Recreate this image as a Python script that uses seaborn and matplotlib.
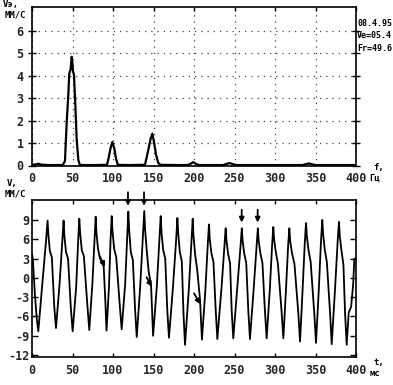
import matplotlib
matplotlib.use("Agg")
import matplotlib.pyplot as plt
import seaborn as sns
import pandas as pd

# ---------------- data ----------------
# spectrum (top): frequency, Hz  /  amplitude, mm/s
spec_f = [0, 5, 8, 11, 20, 38, 40.7, 42.8, 44.9, 46, 47.7, 49, 49.8, 50.6, 51.8, 53.5,
          55.1, 57.2, 59, 62, 80, 92.6, 94.7, 96.8, 99.2, 101.7, 103.7, 106, 120, 139.5,
          143.6, 146.5, 148.6, 150.6, 153, 155.8, 158.5, 180, 192, 196, 199, 202, 206,
          236, 240, 244, 248, 252, 300, 334, 338, 342, 346, 350, 400]
spec_a = [0.03, 0.05, 0.08, 0.04, 0.02, 0.02, 0.2, 1.9, 3.2, 4.1, 4.3, 4.85, 4.6, 4.2, 4.05, 2.7,
          1.2, 0.25, 0.03, 0.02, 0.02, 0.03, 0.35, 0.75, 1.05, 0.75, 0.3, 0.03, 0.02, 0.03,
          0.7, 1.2, 1.42, 1.05, 0.5, 0.12, 0.03, 0.02, 0.02, 0.08, 0.15, 0.08, 0.02,
          0.02, 0.07, 0.11, 0.06, 0.02, 0.02, 0.02, 0.06, 0.09, 0.05, 0.02, 0.02]

# waveform (bottom): time, ms / velocity, mm/s (vertices)
wave_t = [0.3, 1.2, 3.5, 6.0, 7.8, 12.0, 17.5, 19.2,
          20.2, 22.0, 24.5, 27.5, 29.6, 34.0, 37.5, 39.0,
          40.0, 42.0, 44.5, 48.0, 50.2, 54.5, 57.0, 58.4,
          59.4, 61.5, 64.0, 68.5, 70.7, 74.5, 77.2, 78.6,
          79.6, 81.5, 84.0, 88.5, 90.5, 92.0, 95.0, 97.0, 98.4,
          99.4, 101.5, 104.0, 108.5, 110.7, 115.0, 117.5, 118.9,
          119.9, 122.0, 124.5, 127.3, 129.3, 133.5, 137.0, 138.6,
          139.6, 141.5, 144.0, 147.0, 148.2, 149.5, 154.0, 157.4, 158.9,
          159.9, 162.0, 164.5, 167.0, 169.1, 174.0, 178.0, 179.5,
          180.5, 182.5, 185.0, 187.0, 188.9, 193.5, 197.0, 198.4,
          199.4, 201.5, 204.0, 207.5, 208.6, 209.8, 214.0, 217.0, 218.5,
          219.5, 221.5, 224.0, 226.8, 228.8, 234.0, 237.6, 239.1,
          240.1, 242.0, 244.5, 246.5, 248.5, 253.5, 257.5, 259.0,
          260.0, 262.0, 264.5, 267.0, 269.1, 273.5, 277.3, 278.8,
          279.8, 282.0, 284.5, 287.5, 289.7, 293.5, 296.4, 297.9,
          298.9, 301.0, 303.5, 308.0, 310.3, 313.5, 316.2, 317.7,
          318.7, 321.0, 324.0, 328.8, 330.9, 334.0, 336.8, 338.3,
          339.3, 341.5, 344.0, 348.5, 350.6, 354.0, 356.9, 358.4,
          359.4, 361.5, 364.0, 368.0, 370.0, 374.0, 377.5, 379.0,
          380.0, 382.0, 384.5, 386.5, 388.5, 391.0, 394.0, 396.5, 398.0]
wave_v = [3.6, 2.6, -2.5, -6.5, -8.3, -2.0, 6.0, 8.9,
          6.8, 4.2, 3.2, -4.5, -7.8, -1.0, 6.0, 8.9,
          6.5, 4.0, 3.0, -4.8, -8.3, -1.5, 5.8, 9.2,
          7.0, 4.3, 3.4, -4.5, -8.1, -1.0, 6.0, 9.5,
          7.0, 4.5, 3.0, 1.8, -3.5, -8.2, -1.5, 6.0, 9.6,
          7.2, 4.5, 3.2, -4.5, -8.0, -1.0, 6.5, 10.3,
          7.5, 4.0, 2.8, -5.0, -9.2, -1.5, 6.5, 10.4,
          7.5, 4.5, 1.0, -1.2, -5.0, -9.0, -1.5, 6.0, 9.6,
          7.0, 4.3, 3.0, -5.0, -9.3, -1.5, 6.0, 9.3,
          7.0, 4.0, 2.5, -5.5, -10.4, -2.0, 6.0, 9.2,
          6.5, 3.5, 1.2, -3.5, -6.5, -9.6, -2.0, 5.2, 8.3,
          6.0, 3.8, 2.5, -5.0, -9.5, -1.5, 5.0, 7.7,
          5.8, 3.8, 2.3, -5.0, -9.4, -1.5, 5.0, 7.7,
          5.8, 3.8, 2.3, -5.0, -9.5, -2.0, 5.0, 7.7,
          5.8, 3.8, 2.3, -5.0, -9.4, -2.0, 5.0, 7.9,
          6.0, 4.0, 2.3, -5.0, -9.4, -2.0, 5.0, 7.7,
          5.8, 3.8, 2.2, -5.5, -9.9, -2.0, 5.5, 8.5,
          6.5, 4.2, 2.5, -5.5, -10.1, -2.0, 6.0, 9.0,
          6.8, 4.3, 2.5, -5.5, -10.3, -2.0, 6.0, 8.7,
          6.5, 4.3, 2.0, -5.5, -10.4, -5.4, -4.5, -1.0, 3.0]

freq_ticks = [0, 50, 100, 150, 200, 250, 300, 350, 400]
amp_ticks = [0, 1, 2, 3, 4, 5, 6]
vel_ticks = [-12, -9, -6, -3, 0, 3, 6, 9]

# annotation arrows (tail -> head), data coords of the waveform panel
down_arrows = [((118.5, 13.3), (118.5, 11.2)), ((138.3, 13.3), (138.3, 11.2)),
               ((258.9, 10.6), (258.9, 8.6)), ((278.6, 10.6), (278.6, 8.6))]
diag_arrows = [((83.5, 3.4), (90.0, 1.7)), ((141.5, 0.1), (147.8, -1.4)),
               ((200.0, -2.4), (207.8, -4.1))]

info_lines = ["08.4.95", "Ve=05.4", "Fr=49.6"]

# ---------------- plot ----------------
sns.set_theme(style="white")
plt.rcParams["font.family"] = ["DejaVu Sans Mono", "DejaVu Sans"]
plt.rcParams["font.weight"] = "bold"

W, H = 393, 385
fig = plt.figure(figsize=(W / 100, H / 100), dpi=100)
fig.patch.set_facecolor("white")

def ax_rect(x0, y0, x1, y1):
    return [x0 / W, 1 - y1 / H, (x1 - x0) / W, (y1 - y0) / H]

ax1 = fig.add_axes(ax_rect(32, 7, 356, 165.5))
ax2 = fig.add_axes(ax_rect(32, 200, 356, 357))

df_s = pd.DataFrame({"f": spec_f, "a": spec_a})
sns.lineplot(data=df_s, x="f", y="a", ax=ax1, color="black", lw=1.6, estimator=None)
df_w = pd.DataFrame({"t": wave_t, "v": wave_v})
sns.lineplot(data=df_w, x="t", y="v", ax=ax2, color="black", lw=1.3, estimator=None)

fs = 8.5
for ax in (ax1, ax2):
    ax.set_xlim(0, 400)
    ax.set_xlabel("")
    ax.set_ylabel("")
    for s in ax.spines.values():
        s.set_color("black")
        s.set_linewidth(1.2)
        s.set_visible(True)
    ax.set_xticks(freq_ticks)
    ax.set_xticklabels([str(v) for v in freq_ticks], fontsize=fs, fontweight="bold")

ax1.set_ylim(0, 7.07)
ax1.set_yticks(amp_ticks)
ax1.set_yticklabels([str(v) for v in amp_ticks], fontsize=fs, fontweight="bold")
ax1.tick_params(axis="y", which="both", left=True, right=True, direction="inout",
                length=6, width=1, color="black", pad=3)
ax1.tick_params(axis="x", which="both", bottom=False, top=True, direction="in",
                length=3, width=1, color="black", pad=5)
ax1.grid(True, color="#444444", linestyle=(0, (1, 4)), linewidth=0.9)

ax2.set_ylim(-12.3, 12.1)
ax2.set_yticks(vel_ticks)
ax2.set_yticklabels([str(v) for v in vel_ticks], fontsize=fs, fontweight="bold")
ax2.tick_params(axis="y", which="both", left=True, right=True, direction="in",
                length=4, width=1, color="black", pad=2)
ax2.tick_params(axis="x", which="both", bottom=True, top=True, direction="in",
                length=3, width=1, color="black", pad=5)
ax2.grid(False)

for (tail, head) in down_arrows + diag_arrows:
    ax2.annotate("", xy=head, xytext=tail, annotation_clip=False,
                 arrowprops=dict(arrowstyle="-|>", color="black", lw=1.3,
                                 mutation_scale=7, shrinkA=0, shrinkB=0))

def ftext(x, y, s, **kw):
    fig.text(x / W, 1 - y / H, s, **kw)

small = dict(fontsize=6.5, fontweight="bold", color="black", va="top")
ftext(3, 0, "Vэ,", ha="left", **small)
ftext(5, 11, "ММ/С", ha="left", **small)
ftext(7, 179, "V,", ha="left", **small)
ftext(5, 190, "ММ/С", ha="left", **small)
ftext(373, 163, "f,", ha="left", **small)
ftext(369, 174, "Гц", ha="left", **small)
ftext(373, 358, "t,", ha="left", **small)
ftext(370, 369, "мс", ha="left", **small)

for i, line in enumerate(info_lines):
    ftext(357, 19 + i * 12.5, line, ha="left", fontsize=6, fontweight="bold",
          color="black", va="top")

fig.savefig("out.png", dpi=100, facecolor="white")
